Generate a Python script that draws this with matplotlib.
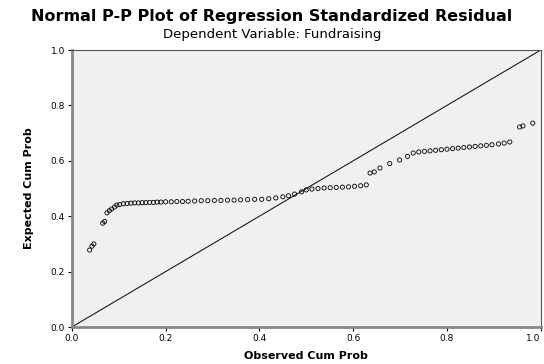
import matplotlib
matplotlib.use("Agg")
import matplotlib.pyplot as plt

# observed vs expected cumulative probabilities
obs_cum = [0.038, 0.043, 0.047, 0.066, 0.070, 0.075, 0.080, 0.085, 0.091, 0.096,
           0.102, 0.110, 0.118, 0.126, 0.134, 0.142, 0.150, 0.158, 0.166, 0.174,
           0.182, 0.190, 0.200, 0.212, 0.224, 0.236, 0.248, 0.262, 0.276, 0.290,
           0.304, 0.318, 0.332, 0.346, 0.360, 0.375, 0.390, 0.405, 0.420, 0.435,
           0.450, 0.462, 0.475, 0.490, 0.500, 0.512, 0.525, 0.538, 0.551, 0.564,
           0.577, 0.590, 0.603, 0.616, 0.628, 0.636, 0.645, 0.657, 0.678, 0.699,
           0.716, 0.728, 0.740, 0.752, 0.764, 0.776, 0.788, 0.800, 0.812, 0.824,
           0.836, 0.848, 0.860, 0.872, 0.884, 0.896, 0.910, 0.922, 0.934, 0.955,
           0.962, 0.983]
exp_cum = [0.278, 0.292, 0.300, 0.375, 0.381, 0.412, 0.420, 0.426, 0.433, 0.440,
           0.442, 0.445, 0.446, 0.447, 0.448, 0.448, 0.449, 0.449, 0.450, 0.450,
           0.451, 0.451, 0.452, 0.452, 0.453, 0.453, 0.454, 0.455, 0.456, 0.456,
           0.457, 0.457, 0.458, 0.458, 0.459, 0.460, 0.461, 0.461, 0.463, 0.466,
           0.470, 0.474, 0.480, 0.488, 0.495, 0.498, 0.500, 0.502, 0.503, 0.504,
           0.505, 0.506, 0.508, 0.510, 0.513, 0.556, 0.560, 0.574, 0.590, 0.603,
           0.616, 0.628, 0.632, 0.634, 0.636, 0.638, 0.640, 0.642, 0.644, 0.646,
           0.648, 0.650, 0.652, 0.654, 0.656, 0.658, 0.661, 0.664, 0.668, 0.722,
           0.726, 0.736]
ticks = [0.0, 0.2, 0.4, 0.6, 0.8, 1.0]

fig = plt.figure(figsize=(5.44, 3.64), dpi=100)
ax = fig.add_axes([0.132, 0.1016, 0.862, 0.761])
ax.set_facecolor("#f0f0f0")

ax.plot([0, 1], [0, 1], color="black", lw=0.7)
ax.scatter(obs_cum, exp_cum, s=9, facecolors="none", edgecolors="black", linewidths=0.6)

ax.set_xlim(0, 1)
ax.set_ylim(0, 1)
ax.set_xticks(ticks)
ax.set_yticks(ticks)
ax.set_xticklabels(["%.1f" % t for t in ticks], fontsize=6.5)
ax.set_yticklabels(["%.1f" % t for t in ticks], fontsize=6.5)
ax.tick_params(length=3, width=0.8, pad=2)
ax.get_xticklabels()[-1].set_ha("right")

for side in ["left", "bottom"]:
    ax.spines[side].set_color("#888888")
    ax.spines[side].set_linewidth(2)
for side in ["top", "right"]:
    ax.spines[side].set_color("#555555")
    ax.spines[side].set_linewidth(0.8)

ax.set_xlabel("Observed Cum Prob", fontsize=8, fontweight="bold", labelpad=6)
ax.set_ylabel("Expected Cum Prob", fontsize=8, fontweight="bold", labelpad=12)

fig.text(0.5, 0.955, "Normal P-P Plot of Regression Standardized Residual",
         ha="center", va="center", fontsize=11.5, fontweight="bold")
fig.text(0.5, 0.905, "Dependent Variable: Fundraising",
         ha="center", va="center", fontsize=9.5)

fig.savefig("out.png", dpi=100)
